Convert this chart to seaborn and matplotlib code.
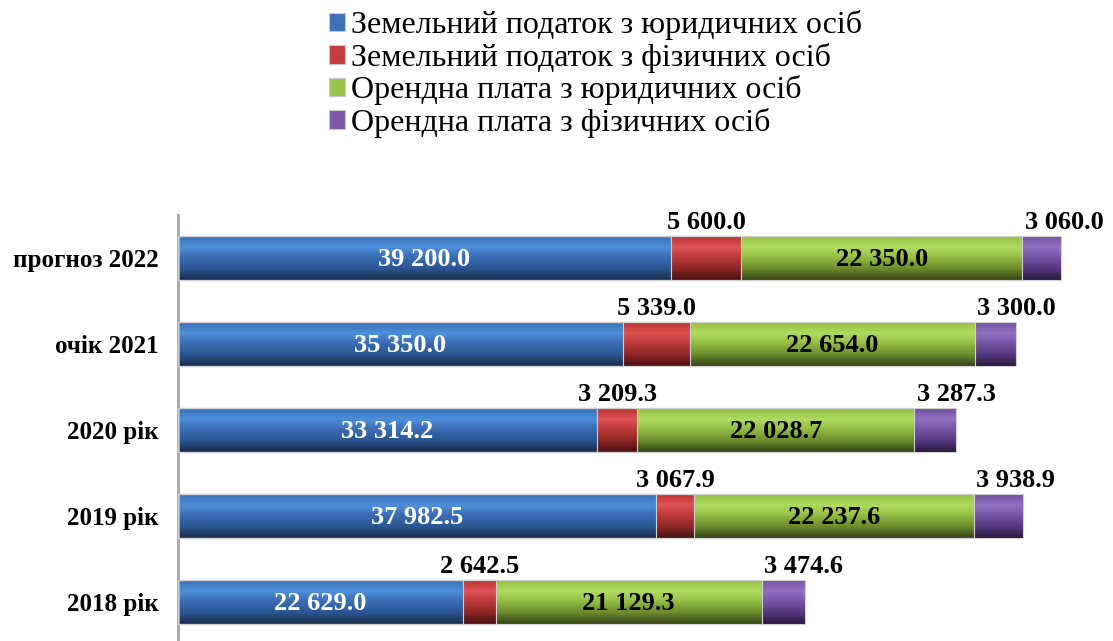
import matplotlib
matplotlib.use("Agg")
import matplotlib.pyplot as plt
import seaborn as sns
import pandas as pd
import numpy as np
from matplotlib.colors import LinearSegmentedColormap
from matplotlib.patches import Patch

# data
categories = ['прогноз 2022', 'очік 2021', '2020 рік', '2019 рік', '2018 рік']
series_names = ['Земельний податок з юридичних осіб',
                'Земельний податок з фізичних осіб',
                'Орендна плата з юридичних осіб',
                'Орендна плата з фізичних осіб']
land_tax_legal = [39200.0, 35350.0, 33314.2, 37982.5, 22629.0]
land_tax_phys = [5600.0, 5339.0, 3209.3, 3067.9, 2642.5]
rent_legal = [22350.0, 22654.0, 22028.7, 22237.6, 21129.3]
rent_phys = [3060.0, 3300.0, 3287.3, 3938.9, 3474.6]

# gradient stops (top -> bottom) for the cylinder look
shades = [
    ['#3a6fb5', '#4f8fdb', '#3d70b8', '#2a5590', '#182c4c'],
    ['#b83232', '#e05454', '#c03c3c', '#8c2626', '#4a1010'],
    ['#92c042', '#b2da62', '#98c248', '#6a8a2c', '#35451a'],
    ['#7252a0', '#9372c2', '#7858a8', '#54387e', '#2a1a40'],
]
mid_colors = ['#3d71b9', '#c43e3e', '#9bc34b', '#7a5aa8']

series = [land_tax_legal, land_tax_phys, rent_legal, rent_phys]
df = pd.DataFrame({'category': categories})
cum = np.zeros(len(categories))
lefts = []
for name, vals in zip(series_names, series):
    lefts.append(cum.copy())
    cum = cum + np.array(vals)
    df[name] = cum

sns.set_style('white')
plt.rcParams['font.family'] = ['Liberation Serif', 'DejaVu Serif']
plt.rcParams['text.color'] = 'black'
plt.rcParams['ytick.color'] = 'black'

fig = plt.figure(figsize=(11.13, 6.41), dpi=100)
ax = fig.add_axes([0.16, -0.006, 0.828, 0.671])

# overlay cumulative totals, widest first (outlines only, fills come from gradients)
for i in reversed(range(len(series_names))):
    sns.barplot(data=df, y='category', x=series_names[i], orient='h',
                color='#808080', edgecolor='#d0d0d0', linewidth=0.8,
                width=0.51, ax=ax)
for p in ax.patches:
    p.set_facecolor('none')
    p.set_zorder(5)

xmax = 73290

# gradient fills on each segment
grad = np.linspace(0, 1, 64).reshape(-1, 1)
for i, vals in enumerate(series):
    cmap = LinearSegmentedColormap.from_list(f's{i}', list(zip([0, 0.25, 0.45, 0.75, 1.0], shades[i])))
    for j, v in enumerate(vals):
        x0 = lefts[i][j]
        x1 = x0 + v
        ax.imshow(grad, cmap=cmap, aspect='auto', origin='upper',
                  extent=[x0, x1, j + 0.255, j - 0.255], zorder=2 + i * 0.1,
                  interpolation='bilinear')
ax.set_xlim(0, xmax)
ax.set_ylim(len(categories) - 0.5, -0.5)

def fmt(v):
    return f"{v:,.1f}".replace(',', ' ')

for j in range(len(categories)):
    x0 = lefts[0][j]
    ax.text(x0 + land_tax_legal[j] / 2, j + 0.02, fmt(land_tax_legal[j]), color='white',
            ha='center', va='center', fontsize=19, fontweight='bold', zorder=10)
    x0 = lefts[1][j]
    ax.text(x0 + land_tax_phys[j] / 2, j - 0.28, fmt(land_tax_phys[j]), color='black',
            ha='center', va='bottom', fontsize=19, fontweight='bold', zorder=10)
    x0 = lefts[2][j]
    ax.text(x0 + rent_legal[j] / 2, j + 0.02, fmt(rent_legal[j]), color='black',
            ha='center', va='center', fontsize=19, fontweight='bold', zorder=10)
    x0 = lefts[3][j]
    ax.text(x0 + 200, j - 0.28, fmt(rent_phys[j]), color='black',
            ha='left', va='bottom', fontsize=19, fontweight='bold', zorder=10)

ax.set_xlabel('')
ax.set_ylabel('')
ax.set_xticks([])
ax.tick_params(axis='y', length=0, pad=14, labelsize=18, labelcolor='black')
for lab in ax.get_yticklabels():
    lab.set_fontweight('bold')
for side in ['top', 'right', 'bottom']:
    ax.spines[side].set_visible(False)
ax.spines['left'].set_color('#a6a6a6')
ax.spines['left'].set_linewidth(2)

handles = [Patch(facecolor=c, edgecolor='#c8c8c8', linewidth=0.8) for c in mid_colors]
leg = fig.legend(handles, series_names, loc='upper left', bbox_to_anchor=(0.284, 1.004),
                 frameon=False, fontsize=23, handlelength=0.5, handleheight=0.5,
                 handletextpad=0.2, labelspacing=0.08, borderaxespad=0)
for t in leg.get_texts():
    t.set_color('black')

fig.savefig('out.png', dpi=100)
